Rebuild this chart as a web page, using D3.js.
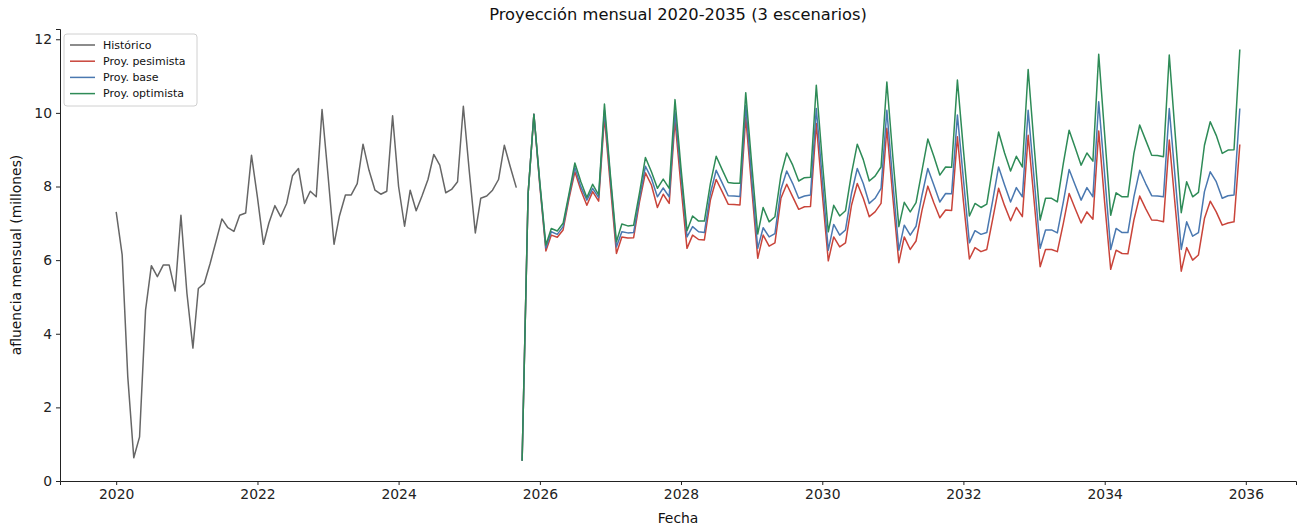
<!DOCTYPE html>
<html>
<head>
<meta charset="utf-8">
<title>Proyección mensual 2020-2035</title>
<script src="https://cdn.jsdelivr.net/npm/d3@7"></script>
<style>
	body { margin: 0; background: #fff; }
	text { font-family: "DejaVu Sans", sans-serif; }
</style>
</head>
<body>
<div id="chart"></div>
<script>

// monthly values, millions
var hist_start = [2020, 0];   // Jan 2020
var historico = [
	7.31, 6.14, 2.83, 0.63, 1.20, 4.64, 5.85, 5.55, 5.87, 5.87, 5.16, 7.22,
	5.10, 3.61, 5.23, 5.37, 5.91, 6.52, 7.12, 6.88, 6.78, 7.22, 7.28, 8.85,
	7.70, 6.43, 7.01, 7.48, 7.18, 7.54, 8.29, 8.49, 7.54, 7.87, 7.72, 10.09,
	8.30, 6.43, 7.20, 7.77, 7.77, 8.08, 9.15, 8.44, 7.90, 7.79, 7.87, 9.92,
	8.00, 6.92, 7.90, 7.34, 7.74, 8.19, 8.87, 8.58, 7.83, 7.92, 8.13, 10.18,
	8.40, 6.74, 7.68, 7.74, 7.90, 8.19, 9.12, 8.53, 7.97
];

var proy_start = [2025, 9];   // Oct 2025
var proy_pesimista = [
	0.55, 7.80, 9.96,
	8.00, 6.25, 6.68, 6.62, 6.82, 7.68, 8.40, 7.90, 7.49, 7.86, 7.60, 9.89,
	8.00, 6.18, 6.63, 6.60, 6.61, 7.60, 8.37, 8.04, 7.43, 7.79, 7.54, 9.80,
	8.00, 6.32, 6.68, 6.56, 6.55, 7.63, 8.19, 7.86, 7.52, 7.51, 7.50, 9.89,
	7.95, 6.05, 6.68, 6.38, 6.47, 7.68, 8.06, 7.72, 7.38, 7.45, 7.46, 9.71,
	7.80, 5.98, 6.63, 6.36, 6.47, 7.49, 8.08, 7.68, 7.18, 7.31, 7.54, 9.58,
	7.70, 5.93, 6.63, 6.29, 6.52, 7.36, 8.01, 7.56, 7.15, 7.36, 7.35, 9.35,
	7.60, 6.03, 6.34, 6.23, 6.29, 7.13, 7.95, 7.48, 7.07, 7.43, 7.18, 9.39,
	7.60, 5.82, 6.29, 6.29, 6.23, 7.00, 7.81, 7.40, 7.01, 7.31, 7.11, 9.51,
	7.55, 5.75, 6.27, 6.18, 6.17, 7.09, 7.74, 7.40, 7.09, 7.08, 7.04, 9.26,
	7.45, 5.70, 6.34, 6.00, 6.14, 7.13, 7.60, 7.31, 6.95, 7.01, 7.04, 9.14
];
var proy_base = [
	0.55, 7.80, 9.96,
	8.05, 6.33, 6.77, 6.70, 6.91, 7.75, 8.52, 7.99, 7.63, 7.95, 7.70, 10.07,
	8.20, 6.36, 6.77, 6.74, 6.75, 7.70, 8.55, 8.22, 7.72, 7.96, 7.72, 10.03,
	8.30, 6.63, 6.91, 6.77, 6.75, 7.81, 8.44, 8.10, 7.75, 7.74, 7.73, 10.21,
	8.20, 6.32, 6.88, 6.63, 6.72, 7.92, 8.42, 8.08, 7.68, 7.74, 7.77, 10.12,
	8.20, 6.27, 6.97, 6.68, 6.82, 7.81, 8.49, 8.08, 7.54, 7.68, 7.95, 10.07,
	8.10, 6.27, 6.95, 6.68, 6.92, 7.77, 8.49, 8.04, 7.58, 7.81, 7.80, 9.94,
	8.20, 6.47, 6.80, 6.70, 6.75, 7.63, 8.53, 8.04, 7.58, 7.97, 7.72, 10.07,
	8.20, 6.32, 6.82, 6.82, 6.74, 7.58, 8.46, 8.04, 7.63, 7.97, 7.72, 10.30,
	8.30, 6.29, 6.86, 6.75, 6.75, 7.72, 8.44, 8.08, 7.75, 7.74, 7.72, 10.12,
	8.20, 6.29, 7.04, 6.65, 6.75, 7.86, 8.40, 8.13, 7.68, 7.75, 7.77, 10.12
];
var proy_optimista = [
	0.55, 7.80, 9.96,
	8.10, 6.41, 6.86, 6.79, 7.00, 7.81, 8.64, 8.13, 7.70, 8.06, 7.77, 10.24,
	8.30, 6.50, 6.98, 6.93, 6.95, 7.85, 8.79, 8.40, 7.95, 8.20, 7.95, 10.36,
	8.50, 6.80, 7.20, 7.06, 7.06, 8.08, 8.82, 8.46, 8.11, 8.09, 8.09, 10.55,
	8.60, 6.71, 7.43, 7.04, 7.18, 8.31, 8.91, 8.58, 8.15, 8.24, 8.25, 10.75,
	8.70, 6.77, 7.49, 7.20, 7.34, 8.35, 9.15, 8.73, 8.15, 8.28, 8.53, 10.84,
	8.80, 6.91, 7.57, 7.31, 7.56, 8.44, 9.29, 8.82, 8.31, 8.53, 8.52, 10.89,
	9.00, 7.20, 7.54, 7.43, 7.52, 8.53, 9.48, 8.91, 8.42, 8.82, 8.53, 11.18,
	9.10, 7.09, 7.68, 7.68, 7.58, 8.63, 9.53, 9.06, 8.58, 8.91, 8.69, 11.59,
	9.40, 7.22, 7.83, 7.72, 7.72, 8.90, 9.67, 9.26, 8.85, 8.84, 8.81, 11.57,
	9.40, 7.29, 8.13, 7.72, 7.84, 9.12, 9.76, 9.39, 8.90, 8.99, 9.00, 11.72
];

var y_ticks = [0, 2, 4, 6, 8, 10, 12];
var x_tick_years = [2020, 2022, 2024, 2026, 2028, 2030, 2032, 2034, 2036];

var series = [
	{name: "Histórico", start: hist_start, values: historico, color: "#666666"},
	{name: "Proy. pesimista", start: proy_start, values: proy_pesimista, color: "#c9443a"},
	{name: "Proy. base", start: proy_start, values: proy_base, color: "#4a78b0"},
	{name: "Proy. optimista", start: proy_start, values: proy_optimista, color: "#2e8b57"}
];

var chart_w = 1304, chart_h = 529;
var m_left = 60, m_right = 1296, m_top = 29, m_bottom = 481;

function to_points(s) {
	var pts = [];
	for (var i = 0; i < s.values.length; i++) {
		pts.push({date: new Date(s.start[0], s.start[1] + i, 1), value: s.values[i]});
	}
	return pts;
}
series.forEach(function(s) { s.points = to_points(s); });

// 5% margins like matplotlib
var all_dates = [];
var all_vals = [];
series.forEach(function(s) {
	s.points.forEach(function(p) { all_dates.push(+p.date); all_vals.push(p.value); });
});
var dmin = d3.min(all_dates), dmax = d3.max(all_dates);
var dpad = (dmax - dmin) * 0.05;
var vmax = d3.max(all_vals), vmin = d3.min(all_vals);
var vpad = (vmax - vmin) * 0.05;

var x = d3.scaleTime()
	.domain([new Date(dmin - dpad), new Date(dmax + dpad)])
	.range([m_left, m_right]);
var y = d3.scaleLinear()
	.domain([0, vmax + vpad])
	.range([m_bottom, m_top]);

var svg = d3.select("#chart").append("svg")
	.attr("width", chart_w)
	.attr("height", chart_h);

// axes
var xAxis = d3.axisBottom(x)
	.tickValues(x_tick_years.map(function(yr) { return new Date(yr, 0, 1); }))
	.tickFormat(d3.timeFormat("%Y"))
	.tickSize(4)
	.tickPadding(4);
var yAxis = d3.axisLeft(y)
	.tickValues(y_ticks)
	.tickFormat(d3.format("d"))
	.tickSize(4)
	.tickPadding(4);

var gx = svg.append("g").attr("transform", "translate(0," + m_bottom + ")").call(xAxis);
var gy = svg.append("g").attr("transform", "translate(" + m_left + ",0)").call(yAxis);
[gx, gy].forEach(function(g) {
	g.select(".domain").attr("stroke", "#222").attr("stroke-width", 1);
	g.selectAll(".tick line").attr("stroke", "#222");
	g.selectAll(".tick text")
		.attr("fill", "#222")
		.style("font-size", "13.9px")
		.style("font-family", "DejaVu Sans, sans-serif");
});

// lines
var line = d3.line()
	.x(function(d) { return x(d.date); })
	.y(function(d) { return y(d.value); });

svg.append("g").selectAll("path")
	.data(series)
	.enter()
	.append("path")
	.attr("d", function(s) { return line(s.points); })
	.attr("fill", "none")
	.attr("stroke", function(s) { return s.color; })
	.attr("stroke-width", 1.5)
	.attr("stroke-linejoin", "round");

// title + labels
svg.append("text")
	.attr("x", (m_left + m_right) / 2)
	.attr("y", 20)
	.attr("text-anchor", "middle")
	.style("font-size", "16.3px")
	.attr("fill", "#111")
	.text("Proyección mensual 2020-2035 (3 escenarios)");

svg.append("text")
	.attr("x", (m_left + m_right) / 2)
	.attr("y", 523)
	.attr("text-anchor", "middle")
	.style("font-size", "13.9px")
	.attr("fill", "#111")
	.text("Fecha");

svg.append("text")
	.attr("transform", "translate(21," + ((m_top + m_bottom) / 2) + ") rotate(-90)")
	.attr("text-anchor", "middle")
	.style("font-size", "13.9px")
	.attr("fill", "#111")
	.text("afluencia mensual (millones)");

// legend
var legend = svg.append("g").attr("transform", "translate(64,34)");
legend.append("rect")
	.attr("width", 133)
	.attr("height", 72)
	.attr("rx", 3)
	.attr("fill", "#fff")
	.attr("fill-opacity", 0.8)
	.attr("stroke", "#d0d0d0");
var items = legend.selectAll("g.item")
	.data(series)
	.enter()
	.append("g")
	.attr("class", "item")
	.attr("transform", function(d, i) { return "translate(0," + (11 + i * 16.2) + ")"; });
items.append("line")
	.attr("x1", 6).attr("x2", 31)
	.attr("stroke", function(d) { return d.color; })
	.attr("stroke-width", 1.5);
items.append("text")
	.attr("x", 39)
	.attr("dy", "0.35em")
	.style("font-size", "11px")
	.attr("fill", "#111")
	.text(function(d) { return d.name; });

</script>
</body>
</html>
